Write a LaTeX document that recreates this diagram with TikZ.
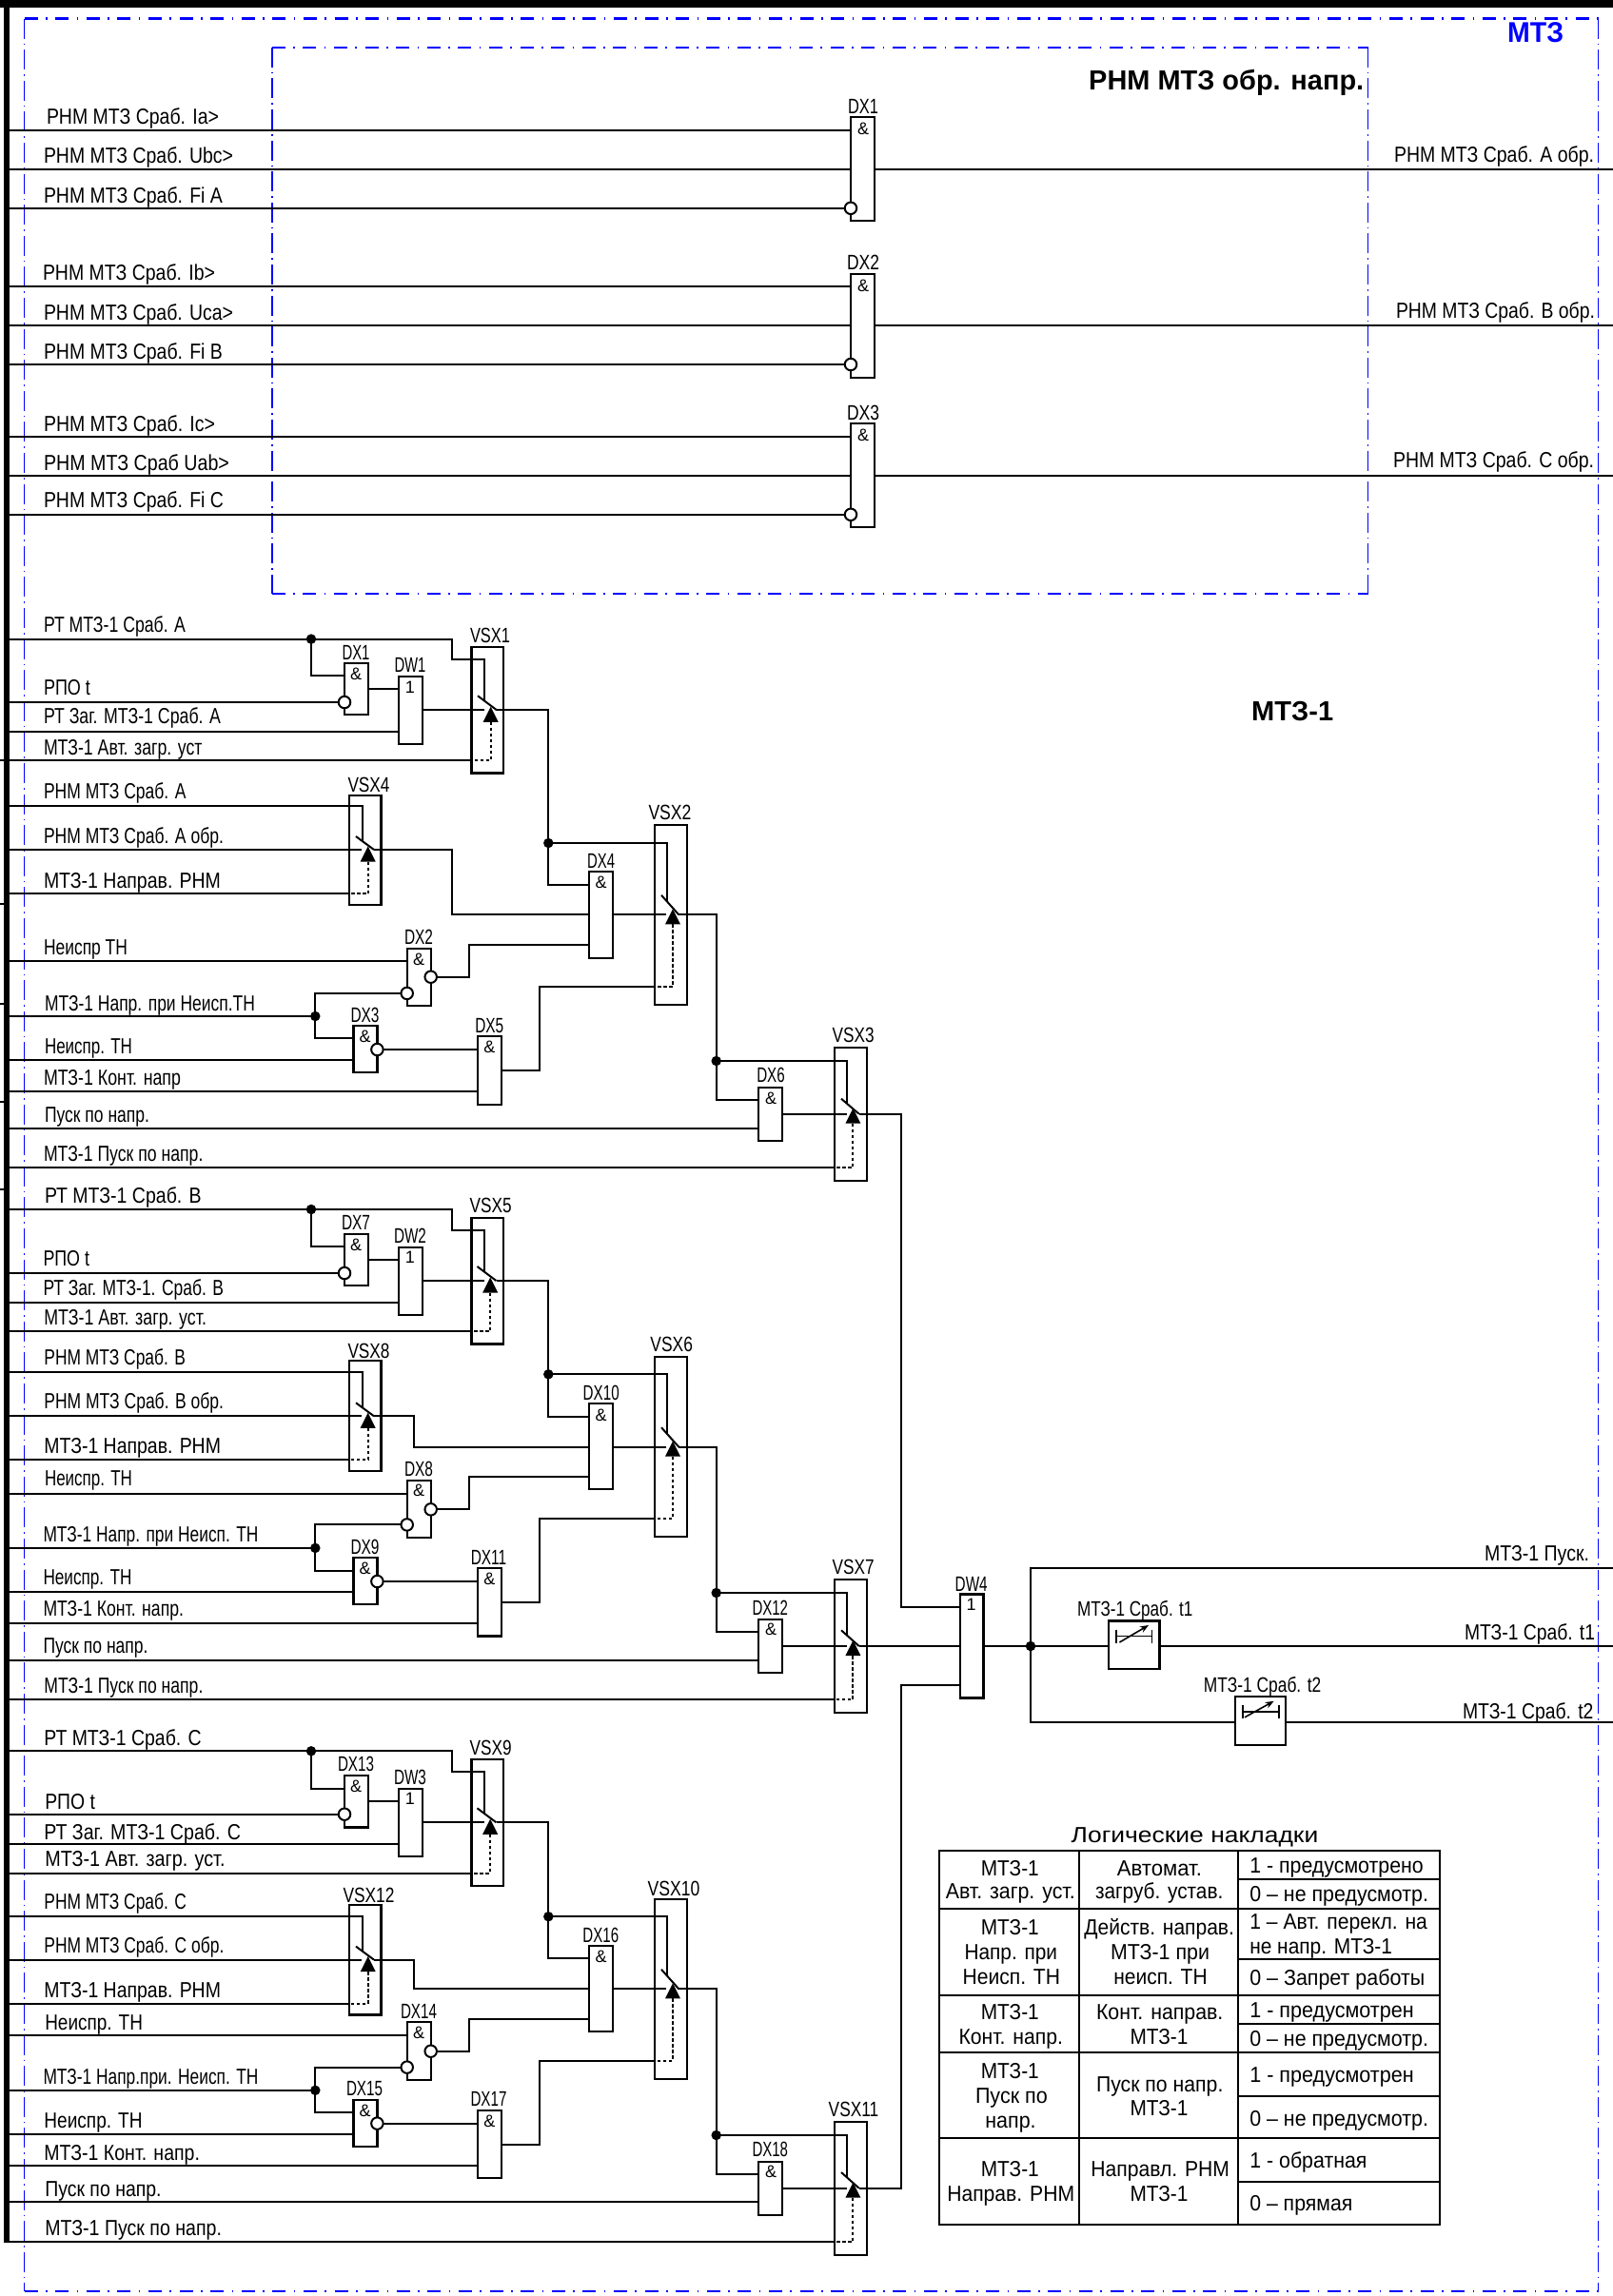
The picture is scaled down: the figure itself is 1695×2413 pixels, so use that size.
\documentclass[tikz,border=0pt]{standalone}
\usepackage{fontspec}
\usepackage{graphicx}
\setmainfont{Liberation Sans}
\usetikzlibrary{calc,arrows.meta}
\definecolor{frameblue}{RGB}{0,0,255}
\newsavebox\lblbox
\newlength\lbllen
\newcounter{tn}
\newcommand\fitw[2]{\sbox\lblbox{#2}\setlength\lbllen{\wd\lblbox}\pgfmathsetmacro\fitr{(#1)/\lbllen}\scalebox{\fitr}[1]{\usebox\lblbox}}
\tikzset{
  wire/.style={line width=2pt,black,line join=miter},
  blockbox/.style={draw=black,line width=2.2pt,inner sep=0pt,outer sep=0pt},
  bubble/.style={circle,draw=black,fill=white,line width=2pt,inner sep=0pt,outer sep=0pt,minimum size=12.5pt},
  dot/.style={circle,fill=black,inner sep=0pt,outer sep=0pt,minimum size=10.5pt},
  txt/.style={inner sep=0pt,outer sep=0pt,font=\fontsize{23}{26}\selectfont},
  tagtxt/.style={inner sep=0pt,outer sep=0pt,font=\fontsize{22}{24}\selectfont},
  symtxt/.style={inner sep=0pt,outer sep=0pt,font=\fontsize{18}{20}\selectfont},
  tabtxt/.style={inner sep=0pt,outer sep=0pt,font=\fontsize{23}{26}\selectfont},
  framel/.style={frameblue,line width=2.4pt,dash pattern=on 14pt off 8.5pt on 1.6pt off 8.5pt},
  framev/.style={frameblue,line width=1.8pt,dash pattern=on 21pt off 5pt on 1.6pt off 5pt},
  tabline/.style={black,line width=2pt},
}
% left-aligned text: x, baseline, width, text
\newcommand\lbl[4]{\stepcounter{tn}\node[txt,anchor=base west] (t\arabic{tn}) at (#1,#2) {\fitw{#3}{#4}};}
% table text, left-aligned and centred
\newcommand\tl[4]{\stepcounter{tn}\node[tabtxt,anchor=base west] (t\arabic{tn}) at (#1,#2) {\fitw{#3}{#4}};}
\newcommand\tc[4]{\stepcounter{tn}\node[tabtxt,anchor=base] (t\arabic{tn}) at (#1,#2) {\fitw{#3}{#4}};}
% box: name,x1,y1,x2,y2,label cx,label base,label w,label
\newcommand\gate[9]{\stepcounter{tn}%
  \node[blockbox,minimum width={(#4-#2)*1pt},minimum height={(#5-#3)*1pt}] (#1) at ({(#2+#4)/2},{(#3+#5)/2}) {};%
  \node[tagtxt,anchor=base] (t\arabic{tn}) at (#6,#7) {\fitw{#8}{#9}};}
\newcommand\sym[3]{\stepcounter{tn}\node[symtxt,anchor=center] (t\arabic{tn}) at (#1,#2) {#3};}
\newcommand\jn[3]{\node[dot] (#1) at (#2,#3) {};}
\newcommand\bub[3]{\node[bubble] (#1) at (#2,#3) {};}
% switch: name, x2,y2, dx,dy, dashed corner y, left x, top wire x, apex offset
\newcommand\sw[9]{%
  \pgfmathsetmacro\swAx{#2-6.3}\pgfmathsetmacro\swAy{#3-#9}\pgfmathsetmacro\swBy{#3-#9+16}%
  \pgfmathsetmacro\swTy{#3-#5*(#2-#8)/#4}%
  \coordinate (#1-top) at (#8,\swTy);
  \coordinate (#1-in) at ({#2-13},#3);
  \coordinate (#1-out) at (#2,#3);
  \draw[black,line width=2pt] ({#2-#4},{#3-#5}) -- (#2,#3);
  \fill[black] (\swAx,\swAy) -- ({\swAx-8},\swBy) -- ({\swAx+8},\swBy) -- cycle;
  \draw[black,line width=2pt,dash pattern=on 3.5pt off 2.5pt] (\swAx,\swBy) -- (\swAx,#6) -- (#7,#6);}
\begin{document}
\begin{tikzpicture}[x=1pt,y=-1pt]
\useasboundingbox (0,0) rectangle (1695,2413);
\coordinate (bus) at (9,0);
\coordinate (rb) at (1695,0);
% heavy border
\fill[black] (0,0) rectangle (1695,8);
\fill[black] (3.5,0) rectangle (10,2357);
\foreach \yy in {799,950,1054.5,1158,1250} \draw[black,line width=2pt] (0,\yy) -- (4,\yy);
% frames
\draw[framel] (25.5,19.6) -- (1679.5,19.6);
\draw[framev] (1679.5,19.6) -- (1679.5,2407.7);
\draw[framel] (25.5,2407.7) -- (1679.5,2407.7);
\draw[framev] (25.5,19.6) -- (25.5,2407.7);
\draw[framel] (285.7,49.8) -- (1437.5,49.8);
\draw[framev] (1437.5,49.8) -- (1437.5,623.7);
\draw[framel] (285.7,623.7) -- (1437.5,623.7);
\draw[framev] (285.7,49.8) -- (285.7,623.7);
% titles
\stepcounter{tn}\node[inner sep=0pt,anchor=base west,font=\fontsize{30}{34}\selectfont\bfseries,text=frameblue] (t\arabic{tn}) at (1584,44) {\fitw{59}{МТЗ}};
\stepcounter{tn}\node[inner sep=0pt,anchor=base west,font=\fontsize{29}{34}\selectfont\bfseries] (t\arabic{tn}) at (1144,94.7) {\fitw{289}{РНМ МТЗ обр. напр.}};
\stepcounter{tn}\node[inner sep=0pt,anchor=base west,font=\fontsize{29}{34}\selectfont\bfseries] (t\arabic{tn}) at (1315,757) {\fitw{86}{МТЗ-1}};
% ---------- top block
\gate{tx1}{894}{123.3}{919}{232.2}{907}{119}{32}{DX1}\sym{907}{135.5}{\&}
\gate{tx2}{894}{287.8}{919}{396.7}{907}{283.7}{34}{DX2}\sym{907}{300}{\&}
\gate{tx3}{894}{445.3}{919}{554.3}{907}{441.6}{34}{DX3}\sym{907}{457}{\&}
\bub{tb1}{894}{218.8}\bub{tb2}{894}{383}\bub{tb3}{894}{540.8}
\draw[wire] (bus |- 0,136.7) -- (tx1.west |- 0,136.7);
\draw[wire] (bus |- 0,178) -- (tx1.west |- 0,178);
\draw[wire] (bus |- 0,218.8) -- (tb1.west);
\draw[wire] (tx1.east |- 0,178) -- (rb |- 0,178);
\draw[wire] (bus |- 0,301) -- (tx2.west |- 0,301);
\draw[wire] (bus |- 0,342.4) -- (tx2.west |- 0,342.4);
\draw[wire] (bus |- 0,383) -- (tb2.west);
\draw[wire] (tx2.east |- 0,342.4) -- (rb |- 0,342.4);
\draw[wire] (bus |- 0,458.8) -- (tx3.west |- 0,458.8);
\draw[wire] (bus |- 0,499.6) -- (tx3.west |- 0,499.6);
\draw[wire] (bus |- 0,540.8) -- (tb3.west);
\draw[wire] (tx3.east |- 0,499.6) -- (rb |- 0,499.6);
\lbl{49}{130.6}{181}{РНМ МТЗ Сраб. Ia>}
\lbl{46}{171.4}{199}{РНМ МТЗ Сраб. Ubc>}
\lbl{46}{213.5}{188}{РНМ МТЗ Сраб. Fi A}
\lbl{45}{294.7}{181}{РНМ МТЗ Сраб. Ib>}
\lbl{46}{336.7}{199}{РНМ МТЗ Сраб. Uca>}
\lbl{46}{377}{188}{РНМ МТЗ Сраб. Fi B}
\lbl{46}{453}{180}{РНМ МТЗ Сраб. Ic>}
\lbl{46}{494}{195}{РНМ МТЗ Сраб Uab>}
\lbl{46}{533.5}{189}{РНМ МТЗ Сраб. Fi C}
\lbl{1465}{170.6}{210}{РНМ МТЗ Сраб. А обр.}
\lbl{1467}{334.7}{209}{РНМ МТЗ Сраб. В обр.}
\lbl{1464}{491}{211}{РНМ МТЗ Сраб. С обр.}
% ---------- group A
\gate{dx1}{362}{697}{387}{751.2}{374}{693}{29}{DX1}\sym{374}{708}{\&}
\gate{dw1}{419}{710.8}{444}{782.2}{431}{706}{33}{DW1}\sym{431}{722}{1}
\gate{vsx1}{495.5}{679.8}{529}{812.4}{515}{675}{42}{VSX1}
\sw{s1}{522}{746.3}{20}{15}{799.4}{495.5}{509}{3.5}
\gate{vsx4}{367}{835.7}{400.4}{951}{387.5}{832}{44}{VSX4}
\sw{s4}{393}{893}{19}{14}{939.4}{367}{381}{3.5}
\gate{dx4}{619.3}{916.3}{644.3}{1007}{631.7}{912}{29}{DX4}\sym{631.7}{927.7}{\&}
\gate{vsx2}{688}{867}{721.7}{1056}{704}{861}{45}{VSX2}
\sw{s2}{713.3}{961.3}{18.3}{20.5}{1037}{688}{701}{6}
\gate{dx2}{427.7}{997}{452.7}{1057.3}{440}{992.9}{30}{DX2}\sym{440}{1008.8}{\&}
\gate{dx3}{371.4}{1078}{396.4}{1127}{383.5}{1074}{30}{DX3}\sym{383.5}{1089}{\&}
\gate{dx5}{501.8}{1089}{526.8}{1160.6}{514.3}{1085}{30}{DX5}\sym{514.3}{1100}{\&}
\gate{dx6}{797.3}{1143}{822.3}{1199}{810}{1137.7}{29.5}{DX6}\sym{810}{1154}{\&}
\gate{vsx3}{877}{1100.7}{910.7}{1241}{896.7}{1095.3}{44}{VSX3}
\sw{s3}{902.7}{1170.7}{18.7}{16}{1227}{877}{890}{6}
\bub{b1}{362}{738}\bub{b2}{427.7}{1043.9}\bub{b3}{452.7}{1026.7}\bub{b4}{396.4}{1103}
\jn{ja1}{327}{671.6}\jn{ja2}{576.3}{886}\jn{ja3}{331.3}{1068}\jn{ja4}{752.7}{1115}
\draw[wire] (bus |- 0,671.6) -- (ja1.center) -- (475,671.6) -- (475,693.3) -| (s1-top);
\draw[wire] (ja1.center) |- (dx1.west |- 0,710.4);
\draw[wire] (bus |- 0,738) -- (b1.west);
\draw[wire] (dx1.east |- 0,724.3) -- (dw1.west |- 0,724.3);
\draw[wire] (bus |- 0,768.8) -- (dw1.west |- 0,768.8);
\draw[wire] (bus |- 0,799.4) -- (vsx1.west |- 0,799.4);
\draw[wire] (dw1.east |- 0,746.3) -- (s1-in);
\draw[wire] (s1-out) -| (ja2.center);
\draw[wire] (ja2.center) |- (dx4.west |- 0,930);
\draw[wire] (ja2.center) -| (s2-top);
\draw[wire] (bus |- 0,847) -| (s4-top);
\draw[wire] (bus |- 0,893) -- (s4-in);
\draw[wire] (bus |- 0,939.4) -- (vsx4.west |- 0,939.4);
\draw[wire] (s4-out) -- (475,893) -- (475,961.3) -- (dx4.west |- 0,961.3);
\draw[wire] (bus |- 0,1010.4) -- (dx2.west |- 0,1010.4);
\draw[wire] (bus |- 0,1068) -- (ja3.center);
\draw[wire] (ja3.center) |- (b2.west);
\draw[wire] (ja3.center) |- (dx3.west |- 0,1091.2);
\draw[wire] (b3.east) -- (493.3,1026.7) -- (493.3,992.9) -- (dx4.west |- 0,992.9);
\draw[wire] (bus |- 0,1113.7) -- (dx3.west |- 0,1113.7);
\draw[wire] (b4.east) -- (dx5.west |- 0,1103);
\draw[wire] (bus |- 0,1146.7) -- (dx5.west |- 0,1146.7);
\draw[wire] (dx5.east |- 0,1124.7) -- (567.3,1124.7) -- (567.3,1037) -- (vsx2.west |- 0,1037);
\draw[wire] (dx4.east |- 0,961.3) -- (s2-in);
\draw[wire] (s2-out) -| (ja4.center);
\draw[wire] (ja4.center) |- (dx6.west |- 0,1156.3);
\draw[wire] (ja4.center) -| (s3-top);
\draw[wire] (bus |- 0,1185.7) -- (dx6.west |- 0,1185.7);
\draw[wire] (bus |- 0,1227) -- (vsx3.west |- 0,1227);
\draw[wire] (dx6.east |- 0,1170.7) -- (s3-in);
\lbl{46}{664.7}{149}{РТ МТЗ-1 Сраб. А}
\lbl{46}{730}{49}{РПО t}
\lbl{46}{760.6}{186}{РТ Заг. МТЗ-1 Сраб. А}
\lbl{46}{793}{166.5}{МТЗ-1 Авт. загр. уст}
\lbl{46}{839}{149.5}{РНМ МТЗ Сраб. А}
\lbl{46}{886}{189}{РНМ МТЗ Сраб. А обр.}
\lbl{46}{933}{186}{МТЗ-1 Направ. РНМ}
\lbl{46}{1003.5}{88}{Неиспр ТН}
\lbl{47}{1062.6}{221}{МТЗ-1 Напр. при Неисп.ТН}
\lbl{47}{1107.6}{92}{Неиспр. ТН}
\lbl{46}{1140}{144}{МТЗ-1 Конт. напр}
\lbl{47}{1179}{110}{Пуск по напр.}
\lbl{46}{1220.6}{167.4}{МТЗ-1 Пуск по напр.}
% ---------- group B
\gate{dx7}{362}{1296.6}{387}{1351.3}{374}{1292.4}{30}{DX7}\sym{374}{1308.5}{\&}
\gate{dw2}{419}{1310.7}{444}{1382}{431}{1306.5}{34}{DW2}\sym{431}{1321}{1}
\gate{vsx5}{495.5}{1279.8}{529}{1412.5}{515.6}{1274.8}{44}{VSX5}
\sw{s5}{521.5}{1346}{20}{15}{1398.8}{495.5}{509}{3.5}
\gate{vsx8}{367}{1430}{400.4}{1545.7}{387.5}{1427}{44}{VSX8}
\sw{s8}{393}{1488.3}{19}{14}{1534.2}{367}{381}{3.5}
\gate{dx10}{619.3}{1475.3}{644.3}{1565.3}{631.7}{1471}{38}{DX10}\sym{631.7}{1487}{\&}
\gate{vsx6}{688}{1426}{721.7}{1615}{705.7}{1420.7}{44.5}{VSX6}
\sw{s6}{713.3}{1520.7}{18.3}{20.5}{1596}{688}{701}{6}
\gate{dx8}{427.7}{1555.7}{452.7}{1615.8}{440}{1551.5}{30}{DX8}\sym{440}{1566.8}{\&}
\gate{dx9}{371.4}{1637.2}{396.4}{1686.2}{383.5}{1633.7}{30}{DX9}\sym{383.5}{1648}{\&}
\gate{dx11}{501.8}{1648}{526.8}{1719.5}{513.5}{1644}{37.5}{DX11}\sym{514.3}{1659.4}{\&}
\gate{dx12}{797.3}{1702}{822.3}{1758}{809.3}{1697}{37.6}{DX12}\sym{810}{1712.7}{\&}
\gate{vsx7}{877}{1660}{910.7}{1800}{896.7}{1654.3}{44}{VSX7}
\sw{s7}{902.7}{1730}{18.7}{16.7}{1786}{877}{890}{6}
\bub{b5}{362}{1338}\bub{b6}{427.7}{1602.4}\bub{b7}{452.7}{1586.3}\bub{b8}{396.4}{1662}
\jn{jb1}{327}{1271}\jn{jb2}{576.3}{1444.3}\jn{jb3}{331.3}{1626.9}\jn{jb4}{752.7}{1674}
\draw[wire] (bus |- 0,1271) -- (jb1.center) -- (475,1271) -- (475,1293) -| (s5-top);
\draw[wire] (jb1.center) |- (dx7.west |- 0,1310.4);
\draw[wire] (bus |- 0,1338) -- (b5.west);
\draw[wire] (dx7.east |- 0,1323.8) -- (dw2.west |- 0,1323.8);
\draw[wire] (bus |- 0,1368.5) -- (dw2.west |- 0,1368.5);
\draw[wire] (bus |- 0,1398.8) -- (vsx5.west |- 0,1398.8);
\draw[wire] (dw2.east |- 0,1346) -- (s5-in);
\draw[wire] (s5-out) -| (jb2.center);
\draw[wire] (jb2.center) |- (dx10.west |- 0,1488.7);
\draw[wire] (jb2.center) -| (s6-top);
\draw[wire] (bus |- 0,1441.6) -| (s8-top);
\draw[wire] (bus |- 0,1488.3) -- (s8-in);
\draw[wire] (bus |- 0,1534.2) -- (vsx8.west |- 0,1534.2);
\draw[wire] (s8-out) -- (435.3,1488.3) -- (435.3,1520.7) -- (dx10.west |- 0,1520.7);
\draw[wire] (bus |- 0,1569.5) -- (dx8.west |- 0,1569.5);
\draw[wire] (bus |- 0,1626.9) -- (jb3.center);
\draw[wire] (jb3.center) |- (b6.west);
\draw[wire] (jb3.center) |- (dx9.west |- 0,1650.6);
\draw[wire] (b7.east) -- (493.3,1586.3) -- (493.3,1552.2) -- (dx10.west |- 0,1552.2);
\draw[wire] (bus |- 0,1672.8) -- (dx9.west |- 0,1672.8);
\draw[wire] (b8.east) -- (dx11.west |- 0,1662);
\draw[wire] (bus |- 0,1706) -- (dx11.west |- 0,1706);
\draw[wire] (dx11.east |- 0,1683.9) -- (567.3,1683.9) -- (567.3,1596) -- (vsx6.west |- 0,1596);
\draw[wire] (dx10.east |- 0,1520.7) -- (s6-in);
\draw[wire] (s6-out) -| (jb4.center);
\draw[wire] (jb4.center) |- (dx12.west |- 0,1715.3);
\draw[wire] (jb4.center) -| (s7-top);
\draw[wire] (bus |- 0,1744.7) -- (dx12.west |- 0,1744.7);
\draw[wire] (bus |- 0,1786) -- (vsx7.west |- 0,1786);
\draw[wire] (dx12.east |- 0,1730) -- (s7-in);
\lbl{47}{1264.4}{164.6}{РТ МТЗ-1 Сраб. В}
\lbl{45.5}{1330.3}{48.5}{РПО t}
\lbl{45.5}{1361}{189.5}{РТ Заг. МТЗ-1. Сраб. В}
\lbl{46.4}{1392.6}{170.6}{МТЗ-1 Авт. загр. уст.}
\lbl{46.4}{1434}{148.6}{РНМ МТЗ Сраб. В}
\lbl{46.4}{1480.7}{188.6}{РНМ МТЗ Сраб. В обр.}
\lbl{46.4}{1527.7}{185.6}{МТЗ-1 Направ. РНМ}
\lbl{47}{1561.8}{92}{Неиспр. ТН}
\lbl{45.5}{1620.4}{226}{МТЗ-1 Напр. при Неисп. ТН}
\lbl{45.5}{1665.5}{93}{Неиспр. ТН}
\lbl{45.5}{1698.8}{147.5}{МТЗ-1 Конт. напр.}
\lbl{45.5}{1737}{110}{Пуск по напр.}
\lbl{46.4}{1779}{167}{МТЗ-1 Пуск по напр.}
% ---------- group C
\gate{dx13}{362}{1866}{387}{1920.4}{374}{1861.4}{38}{DX13}\sym{374}{1877.4}{\&}
\gate{dw3}{419}{1879.7}{444}{1951}{431}{1875}{34}{DW3}\sym{431}{1890.7}{1}
\gate{vsx9}{495.5}{1848.9}{529}{1981.8}{515.6}{1844.2}{44}{VSX9}
\sw{s9}{521.5}{1915.3}{20}{15}{1968.5}{495.5}{509}{3.5}
\gate{vsx12}{367}{2002}{400.4}{2117.4}{387.5}{1999.4}{54}{VSX12}
\sw{s12}{393}{2059.6}{19}{14}{2105.7}{367}{381}{3.5}
\gate{dx16}{619.3}{2045}{644.3}{2135.3}{631.3}{2041}{37.7}{DX16}\sym{631.7}{2056}{\&}
\gate{vsx10}{688}{1995.7}{721.7}{2185}{708}{1992.7}{54.7}{VSX10}
\sw{s10}{713.3}{2090.3}{18.3}{20.5}{2165.7}{688}{701}{6}
\gate{dx14}{427.7}{2125.3}{452.7}{2185.8}{440}{2121.3}{38}{DX14}\sym{440}{2136}{\&}
\gate{dx15}{371.4}{2207}{396.4}{2256.2}{383}{2202.7}{38}{DX15}\sym{383.5}{2218.3}{\&}
\gate{dx17}{501.8}{2217.9}{526.8}{2288.7}{513.5}{2213.6}{38}{DX17}\sym{514.3}{2229}{\&}
\gate{dx18}{797.3}{2272}{822.3}{2328}{809.3}{2266.7}{37.6}{DX18}\sym{810}{2282.7}{\&}
\gate{vsx11}{877}{2229.7}{910.7}{2370}{897}{2224.3}{52.6}{VSX11}
\sw{s11}{902.7}{2299.7}{18.7}{16.7}{2356}{877}{890}{6}
\bub{b9}{362}{1906.7}\bub{b10}{427.7}{2172.6}\bub{b11}{452.7}{2155.7}\bub{b12}{396.4}{2231.6}
\jn{jc1}{327}{1840.3}\jn{jc2}{576.3}{2014.2}\jn{jc3}{331.3}{2196.8}\jn{jc4}{752.7}{2244}
\draw[wire] (bus |- 0,1840.3) -- (jc1.center) -- (475,1840.3) -- (475,1861.8) -| (s9-top);
\draw[wire] (jc1.center) |- (dx13.west |- 0,1879.7);
\draw[wire] (bus |- 0,1906.7) -- (b9.west);
\draw[wire] (dx13.east |- 0,1893) -- (dw3.west |- 0,1893);
\draw[wire] (bus |- 0,1937.6) -- (dw3.west |- 0,1937.6);
\draw[wire] (bus |- 0,1968.5) -- (vsx9.west |- 0,1968.5);
\draw[wire] (dw3.east |- 0,1915.3) -- (s9-in);
\draw[wire] (s9-out) -| (jc2.center);
\draw[wire] (jc2.center) |- (dx16.west |- 0,2058.3);
\draw[wire] (jc2.center) -| (s10-top);
\draw[wire] (bus |- 0,2013.8) -| (s12-top);
\draw[wire] (bus |- 0,2059.6) -- (s12-in);
\draw[wire] (bus |- 0,2105.7) -- (vsx12.west |- 0,2105.7);
\draw[wire] (s12-out) -- (435.3,2059.6) -- (435.3,2090.3) -- (dx16.west |- 0,2090.3);
\draw[wire] (bus |- 0,2139.3) -- (dx14.west |- 0,2139.3);
\draw[wire] (bus |- 0,2196.8) -- (jc3.center);
\draw[wire] (jc3.center) |- (b10.west);
\draw[wire] (jc3.center) |- (dx15.west |- 0,2220.2);
\draw[wire] (b11.east) -- (493.3,2155.7) -- (493.3,2121.7) -- (dx16.west |- 0,2121.7);
\draw[wire] (bus |- 0,2242.5) -- (dx15.west |- 0,2242.5);
\draw[wire] (b12.east) -- (dx17.west |- 0,2231.6);
\draw[wire] (bus |- 0,2275.8) -- (dx17.west |- 0,2275.8);
\draw[wire] (dx17.east |- 0,2253.5) -- (567.3,2253.5) -- (567.3,2165.7) -- (vsx10.west |- 0,2165.7);
\draw[wire] (dx16.east |- 0,2090.3) -- (s10-in);
\draw[wire] (s10-out) -| (jc4.center);
\draw[wire] (jc4.center) |- (dx18.west |- 0,2285);
\draw[wire] (jc4.center) -| (s11-top);
\draw[wire] (bus |- 0,2314.3) -- (dx18.west |- 0,2314.3);
\draw[wire] (bus |- 0,2356) -- (vsx11.west |- 0,2356);
\draw[wire] (dx18.east |- 0,2299.7) -- (s11-in);
\lbl{46.4}{1834.4}{165.2}{РТ МТЗ-1 Сраб. С}
\lbl{47.3}{1901.6}{52.7}{РПО t}
\lbl{46.4}{1933.7}{206.6}{РТ Заг. МТЗ-1 Сраб. С}
\lbl{47.3}{1961.5}{189.3}{МТЗ-1 Авт. загр. уст.}
\lbl{46.4}{2006}{149.6}{РНМ МТЗ Сраб. С}
\lbl{46.4}{2052}{189}{РНМ МТЗ Сраб. С обр.}
\lbl{46.4}{2099}{185.6}{МТЗ-1 Направ. РНМ}
\lbl{47.3}{2133.5}{102.7}{Неиспр. ТН}
\lbl{45.5}{2190}{226}{МТЗ-1 Напр.при. Неисп. ТН}
\lbl{46.4}{2236.3}{103.2}{Неиспр. ТН}
\lbl{46.4}{2270}{163.6}{МТЗ-1 Конт. напр.}
\lbl{47.3}{2308}{122.3}{Пуск по напр.}
\lbl{47.3}{2349}{185.7}{МТЗ-1 Пуск по напр.}
% ---------- output section
\gate{dw4}{1009}{1675.5}{1033.4}{1784.4}{1020.7}{1672}{34}{DW4}\sym{1020.7}{1686.5}{1}
\gate{tm1}{1165.2}{1703.5}{1218.5}{1753.6}{1192.7}{1698.6}{121.4}{МТЗ-1 Сраб. t1}
\gate{tm2}{1298}{1783.3}{1351.3}{1834}{1326.6}{1778.4}{123.3}{МТЗ-1 Сраб. t2}
\jn{jo}{1083}{1730}
\draw[wire] (s3-out) -- (946.7,1170.7) -- (946.7,1688.7) -- (dw4.west |- 0,1688.7);
\draw[wire] (s7-out) -- (dw4.west |- 0,1730);
\draw[wire] (s11-out) -- (946.7,2299.7) -- (946.7,1770.7) -- (dw4.west |- 0,1770.7);
\draw[wire] (dw4.east |- 0,1730) -- (jo.center) -- (tm1.west |- 0,1730);
\draw[wire] (jo.center) |- (rb |- 0,1648);
\draw[wire] (jo.center) |- (tm2.west |- 0,1810.3);
\draw[wire] (tm1.east |- 0,1730) -- (rb |- 0,1730);
\draw[wire] (tm2.east |- 0,1810.3) -- (rb |- 0,1810.3);
\draw[black,line width=1.6pt] (1172.8,1712.5) -- (1172.8,1726.5) (1172.8,1719.5) -- (1210.3,1719.5) (1210.3,1712.5) -- (1210.3,1726.5);
\draw[black,line width=1.6pt,-{Stealth[length=9pt,width=7pt]}] (1176.4,1726) -- (1207,1708);
\draw[black,line width=1.6pt] (1305.7,1791.8) -- (1305.7,1805.8) (1305.7,1798.8) -- (1343.7,1798.8) (1343.7,1791.8) -- (1343.7,1805.8);
\draw[black,line width=1.6pt,-{Stealth[length=9pt,width=7pt]}] (1308,1804.8) -- (1338.6,1787.8);
\lbl{1560}{1640.8}{110}{МТЗ-1 Пуск.}
\lbl{1539}{1723.4}{137}{МТЗ-1 Сраб. t1}
\lbl{1537}{1806}{137.4}{МТЗ-1 Сраб. t2}
% ---------- table
\stepcounter{tn}\node[tabtxt,anchor=base west] (t\arabic{tn}) at (1125.7,1936.3) {\fitw{259.6}{Логические накладки}};
\draw[tabline] (987.2,1945.2) rectangle (1512.6,2338);
\draw[tabline] (1134.3,1945.2) -- (1134.3,2338) (1301,1945.2) -- (1301,2338);
\foreach \yy in {2005.7,2096.5,2157,2247.3} \draw[tabline] (987.2,\yy) -- (1512.6,\yy);
\foreach \yy in {1975.4,2058.5,2126.8,2202.7,2293} \draw[tabline] (1301,\yy) -- (1512.6,\yy);
\tc{1061.3}{1971}{61}{МТЗ-1}
\tc{1061.8}{1995.8}{136}{Авт. загр. уст.}
\tc{1218.4}{1971}{89}{Автомат.}
\tc{1218.2}{1995.8}{134.4}{загруб. устав.}
\tl{1313.3}{1968}{182.5}{1 - предусмотрено}
\tl{1313.3}{1998.5}{187.7}{0 – не предусмотр.}
\tc{1061.3}{2033}{61}{МТЗ-1}
\tc{1062.3}{2059}{97.4}{Напр. при}
\tc{1062.8}{2085}{102.4}{Неисп. ТН}
\tc{1218.2}{2033}{157.6}{Действ. направ.}
\tc{1219}{2059}{104}{МТЗ-1 при}
\tc{1219.5}{2085}{98.4}{неисп. ТН}
\tl{1313.3}{2027}{186.7}{1 – Авт. перекл. на}
\tl{1313.3}{2053.6}{149.7}{не напр. МТЗ-1}
\tl{1313.3}{2086.6}{184}{0 – Запрет работы}
\tc{1061.3}{2122.4}{61}{МТЗ-1}
\tc{1062.3}{2148}{109.5}{Конт. напр.}
\tc{1218.7}{2122.4}{133.4}{Конт. направ.}
\tc{1218}{2148}{61}{МТЗ-1}
\tl{1313.3}{2120.7}{172.4}{1 - предусмотрен}
\tl{1313.3}{2150.4}{187.7}{0 – не предусмотр.}
\tc{1061.3}{2184.6}{61}{МТЗ-1}
\tc{1062.9}{2210.4}{75.8}{Пуск по}
\tc{1062}{2236.3}{53.2}{напр.}
\tc{1218.7}{2198.3}{133.4}{Пуск по напр.}
\tc{1218}{2223.6}{61}{МТЗ-1}
\tl{1313.3}{2188.4}{172.4}{1 - предусмотрен}
\tl{1313.3}{2234}{187.7}{0 – не предусмотр.}
\tc{1061.3}{2287.5}{61}{МТЗ-1}
\tc{1062.2}{2313.9}{133.9}{Направ. РНМ}
\tc{1219.2}{2287.5}{145.6}{Направл. РНМ}
\tc{1218}{2313.9}{61}{МТЗ-1}
\tl{1313.3}{2278}{123.2}{1 - обратная}
\tl{1313.3}{2323}{108}{0 – прямая}
\end{tikzpicture}
\end{document}
